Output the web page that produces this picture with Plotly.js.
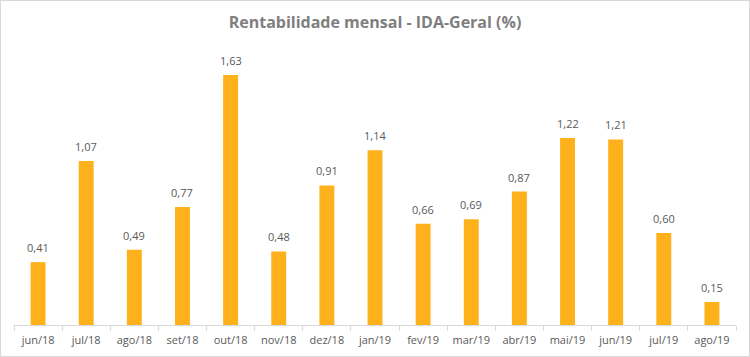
<!DOCTYPE html>
<html><head><meta charset="utf-8">
<script src="https://cdn.plot.ly/plotly-3.0.1.min.js"></script>
<style>html,body{margin:0;padding:0;background:#fff}#c{width:750px;height:357px;box-sizing:border-box;border:1px solid #d9d9d9}</style>
</head><body><div id="c"></div>
<script>
const categories = ["jun/18","jul/18","ago/18","set/18","out/18","nov/18","dez/18","jan/19","fev/19","mar/19","abr/19","mai/19","jun/19","jul/19","ago/19"];
const values = [0.41,1.07,0.49,0.77,1.63,0.48,0.91,1.14,0.66,0.69,0.87,1.22,1.21,0.60,0.15];
const FONT = 'Open Sans, Liberation Sans, sans-serif';
const trace = {
  type:'bar', x:categories, y:values,
  marker:{color:'#FFB11B'},
  width:0.31,
  hoverinfo:'none'
};
const annotations = categories.map((c,i)=>({
  x:c, y:values[i], xref:'x', yref:'y', text:values[i].toFixed(2).replace('.',','),
  showarrow:false, yanchor:'bottom', yshift:5,
  font:{family:FONT, size:11, color:'#595959'}
}));
const layout = {
  width:748, height:355,
  margin:{l:13,r:13,t:48,b:31},
  paper_bgcolor:'#fff', plot_bgcolor:'#fff',
  title:{text:'<b>Rentabilidade mensal - IDA-Geral (%)</b>', x:0.5, xanchor:'center', y:0.94, yanchor:'middle',
    font:{family:FONT, size:16, color:'#7f7f7f'}},
  xaxis:{type:'category', showline:true, linecolor:'#d9d9d9', linewidth:1, ticks:'outside', tickson:'boundaries',
    ticklen:5, tickcolor:'#d9d9d9', showgrid:false, ticklabelstandoff:5,
    tickfont:{family:FONT, size:11, color:'#595959'}},
  yaxis:{range:[0,1.8], visible:false, showgrid:false, zeroline:false},
  annotations:annotations,
  showlegend:false
};
Plotly.newPlot('c',[trace],layout,{displayModeBar:false,staticPlot:true});
</script></body></html>
